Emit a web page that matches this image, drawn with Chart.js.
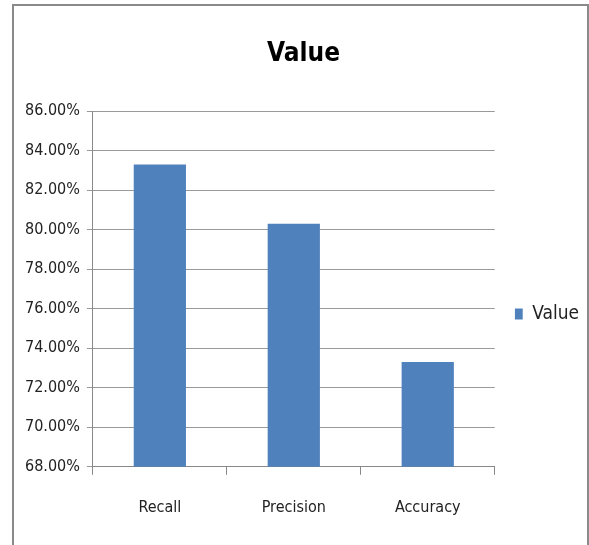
<!DOCTYPE html>
<html>
<head>
<meta charset="utf-8">
<script src="https://cdn.jsdelivr.net/npm/chart.js@4/dist/chart.umd.min.js"></script>
<style>
  body { margin: 0; background: #fff; }
  #frame { position: absolute; left: 12px; top: 4px; width: 577px; height: 600px; border: 2px solid #8a8a8a; box-sizing: border-box; }
  #wrap { position: absolute; left: 0; top: 0; width: 589px; height: 545px; }
</style>
</head>
<body>
<div id="frame"></div>
<div id="wrap"><canvas id="chart"></canvas></div>
<script>
const categories = ["Recall", "Precision", "Accuracy"];
const values = [83.3, 80.3, 73.3];
const yTicks = [68, 70, 72, 74, 76, 78, 80, 82, 84, 86];

const font = "'Liberation Sans Narrow', 'DejaVu Sans Condensed', 'Open Sans', sans-serif";
const ctx = document.getElementById('chart').getContext('2d');

const config = {
    type: 'bar',
    data: {
        labels: categories,
        datasets: [
            {
                label: 'Value',
                data: values,
                backgroundColor: '#4f81bd',
                borderWidth: 0,
                barPercentage: 0.39,
                categoryPercentage: 1,
            }
        ]
    },
    options: {
        responsive: true,
        maintainAspectRatio: false,
        animation: false,
        layout: {
            padding: { left: 18, right: 0, top: 20, bottom: 5 },
        },
        plugins: {
            title: {
                display: true,
                text: 'Value',
                color: '#000',
                font: { family: font, size: 26, weight: 'bold' },
                padding: { top: 19, bottom: 41 },
            },
            legend: {
                position: 'right',
                // blank title only pushes the legend item down a bit
                title: {
                    display: true,
                    text: ' ',
                    color: 'rgba(0,0,0,0)',
                    font: { size: 10 },
                    padding: { top: 28, bottom: 28 },
                },
                labels: {
                    color: '#222',
                    font: { family: font, size: 19 },
                    boxWidth: 8,
                    boxHeight: 11,
                    padding: 0,
                },
            },
            tooltip: { enabled: false },
        },
        scales: {
            x: {
                grid: {
                    drawOnChartArea: false,
                    drawTicks: true,
                    tickLength: 8,
                    color: '#888',
                },
                border: { color: '#888' },
                ticks: {
                    color: '#222',
                    font: { family: font, size: 16 },
                    padding: 23,
                },
            },
            y: {
                min: yTicks[0],
                max: yTicks[yTicks.length - 1],
                afterBuildTicks: (axis) => { axis.ticks = yTicks.map(v => ({ value: v })); },
                grid: {
                    color: '#999',
                    tickLength: 6,
                },
                border: { color: '#888' },
                ticks: {
                    color: '#222',
                    font: { family: font, size: 16 },
                    padding: 7,
                    callback: (v) => v.toFixed(2) + '%',
                },
            },
            // empty spacer between the plot and the legend
            gap: {
                type: 'linear',
                position: 'right',
                display: true,
                grid: { display: false },
                border: { display: false },
                ticks: { display: false },
                afterFit: (axis) => { axis.width = 20; },
            },
        },
    },
};

const myChart = new Chart(ctx, config);
</script>
</body>
</html>
